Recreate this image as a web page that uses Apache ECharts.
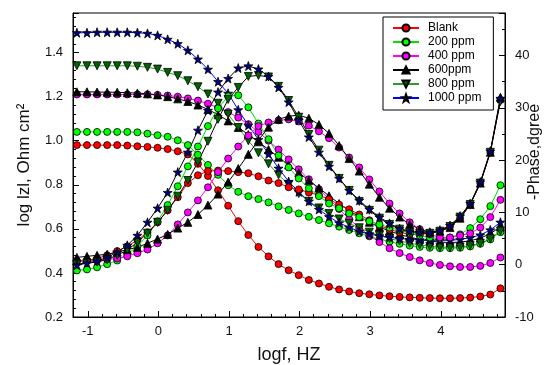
<!DOCTYPE html>
<html><head><meta charset="utf-8">
<script src="https://cdn.jsdelivr.net/npm/echarts@6/dist/echarts.min.js"></script>
<style>html,body{margin:0;padding:0;background:#fff}#c{width:550px;height:365px}</style>
</head><body><div id="c"></div>
<script>
// log f (Hz)
const logf = [-1.155,-1.012,-0.869,-0.726,-0.584,-0.441,-0.298,-0.155,-0.012,0.131,0.274,0.417,0.560,0.702,0.845,0.988,1.131,1.274,1.417,1.560,1.702,1.845,1.988,2.131,2.274,2.417,2.560,2.702,2.845,2.988,3.131,3.274,3.417,3.560,3.702,3.845,3.988,4.131,4.274,4.417,4.560,4.702,4.845];

// log |Z| (left axis)
const zBlank = [0.98,0.98,0.98,0.98,0.98,0.978,0.975,0.972,0.968,0.962,0.952,0.938,0.895,0.84,0.775,0.705,0.635,0.572,0.518,0.475,0.44,0.412,0.39,0.368,0.352,0.337,0.325,0.316,0.308,0.303,0.298,0.294,0.291,0.289,0.287,0.286,0.285,0.285,0.286,0.288,0.293,0.302,0.33];
const z200 = [1.04,1.04,1.04,1.04,1.04,1.04,1.038,1.032,1.025,1.018,1.002,0.98,0.936,0.89,0.845,0.798,0.768,0.748,0.735,0.72,0.702,0.686,0.67,0.655,0.64,0.625,0.61,0.595,0.58,0.566,0.553,0.542,0.532,0.524,0.518,0.514,0.512,0.512,0.514,0.52,0.532,0.552,0.585];
const z400 = [1.21,1.21,1.21,1.21,1.21,1.21,1.21,1.21,1.208,1.205,1.2,1.192,1.182,1.168,1.15,1.13,1.105,1.075,1.04,1.0,0.96,0.915,0.87,0.825,0.78,0.735,0.69,0.645,0.605,0.57,0.54,0.512,0.49,0.472,0.457,0.445,0.436,0.43,0.427,0.427,0.432,0.445,0.47];
const z600 = [1.222,1.222,1.221,1.22,1.22,1.218,1.216,1.213,1.208,1.2,1.19,1.178,1.162,1.142,1.118,1.09,1.06,1.028,0.995,0.96,0.925,0.89,0.855,0.82,0.785,0.75,0.715,0.683,0.655,0.63,0.608,0.59,0.575,0.562,0.552,0.545,0.54,0.538,0.54,0.546,0.558,0.578,0.61];
const z800 = [1.34,1.34,1.34,1.34,1.34,1.34,1.338,1.333,1.325,1.31,1.295,1.272,1.245,1.212,1.17,1.12,1.06,1.0,0.945,0.895,0.845,0.8,0.76,0.725,0.695,0.67,0.645,0.625,0.605,0.585,0.57,0.556,0.545,0.535,0.527,0.521,0.517,0.516,0.518,0.524,0.535,0.555,0.59];
const z1000 = [1.49,1.49,1.492,1.492,1.492,1.492,1.49,1.487,1.478,1.46,1.44,1.41,1.37,1.324,1.268,1.215,1.14,1.07,1.005,0.94,0.875,0.815,0.768,0.725,0.688,0.655,0.627,0.607,0.588,0.577,0.568,0.562,0.556,0.552,0.55,0.548,0.548,0.548,0.552,0.56,0.572,0.595,0.63];

// -Phase (degree, right axis)
const pBlank = [0.7,0.8,1.2,1.8,2.6,3.5,4.7,6.2,8.1,10.4,12.9,15.6,17.1,17.9,18.0,17.9,17.7,17.5,16.9,16.1,15.6,14.8,14.4,13.8,13.3,12.5,11.5,10.6,9.6,8.5,7.5,6.7,6.2,5.8,5.8,6.0,6.4,7.3,8.9,11.5,15.6,21.5,31.5];
const p200 = [-1.1,-0.9,-0.5,0.1,0.8,2.0,3.5,5.6,8.3,11.4,15.0,18.8,22.6,26.5,29.9,32.2,32.4,30.1,27.0,24.0,20.9,18.6,16.5,14.6,13.1,11.7,10.8,9.8,9.1,8.3,7.7,7.1,6.6,6.0,5.6,5.2,5.0,5.2,5.8,7.0,8.7,11.2,15.2];
const p400 = [0.7,0.7,0.8,1.0,1.2,1.6,2.2,2.9,4.1,5.6,7.7,10.0,12.3,14.8,17.7,20.3,22.6,24.7,26.5,27.2,27.6,27.8,27.4,26.6,25.5,24.2,22.4,20.5,18.6,16.3,14.0,11.7,9.8,8.1,6.8,5.8,5.2,5.2,5.6,6.0,7.1,9.1,12.4];
const p600 = [1.4,1.6,1.8,2.0,2.4,2.9,3.3,4.1,4.9,5.8,7.0,8.1,9.6,11.4,13.5,15.8,18.4,21.1,23.8,26.3,27.8,28.4,28.6,28.0,26.8,25.1,22.8,20.3,17.9,15.4,12.9,10.8,9.1,7.7,6.8,6.2,6.4,7.1,8.9,11.5,15.6,21.5,32.0];
const p800 = [0.1,0.3,0.5,1.0,1.8,2.8,4.3,6.0,8.1,10.4,13.1,16.1,19.6,23.6,27.8,31.6,33.9,36.0,36.2,35.9,34.1,31.4,28.2,24.9,21.9,19.0,16.5,14.2,12.1,10.4,8.9,7.7,6.8,6.2,6.0,6.0,6.4,7.3,9.1,11.5,15.6,21.5,31.2];
const p1000 = [-0.1,0.3,0.7,1.4,2.4,3.7,5.6,8.1,10.8,13.8,17.7,21.5,25.7,29.5,33.0,35.6,37.6,38.0,37.4,36.0,33.9,31.1,27.6,24.4,21.5,18.8,16.5,14.2,12.3,10.6,9.1,7.9,6.9,6.4,6.2,6.2,6.6,7.5,9.3,11.7,15.8,21.7,31.8];

const seriesNames = ['Blank','200 ppm','400 ppm','600ppm','800 ppm','1000 ppm'];
const xMajorTicks = [-1,0,1,2,3,4];
const xMinorTicks = [-0.8,-0.6,-0.4,-0.2,0.2,0.4,0.6,0.8,1.2,1.4,1.6,1.8,2.2,2.4,2.6,2.8,3.2,3.4,3.6,3.8,4.2,4.4,4.6,4.8];

const FONT = '"Liberation Sans", Arial, sans-serif';
const STAR = 'path://M0,-10L2.35,-3.24L9.51,-3.09L3.8,1.24L5.88,8.09L0,4L-5.88,8.09L-3.8,1.24L-9.51,-3.09L-2.35,-3.24Z';

const specs = [
  {name: seriesNames[0], z: zBlank, p: pBlank, zLine: '#ff0000', pLine: '#ff0000', fill: '#ff0000', symbol: 'circle', size: 7, rot: 0},
  {name: seriesNames[1], z: z200, p: p200, zLine: '#00e000', pLine: '#00e000', fill: '#00ff00', symbol: 'circle', size: 7, rot: 0},
  {name: seriesNames[2], z: z400, p: p400, zLine: '#ff00ff', pLine: '#ff00ff', fill: '#ff00ff', symbol: 'circle', size: 7, rot: 0},
  {name: seriesNames[3], z: z600, p: p600, zLine: '#000000', pLine: '#000000', fill: '#000000', symbol: 'triangle', size: 8, rot: 0},
  {name: seriesNames[4], z: z800, p: p800, zLine: '#2aa02a', pLine: '#000000', fill: '#006400', symbol: 'triangle', size: 8, rot: 180},
  {name: seriesNames[5], z: z1000, p: p1000, zLine: '#0000ff', pLine: '#000000', fill: '#000080', symbol: STAR, size: 9, rot: 0}
];

function mk(spec, vals, axis, lineColor) {
  return {
    type: 'line', name: spec.name, xAxisIndex: 0, yAxisIndex: axis,
    data: logf.map((x, i) => [x, vals[i]]),
    symbol: spec.symbol, symbolSize: spec.size, symbolRotate: spec.rot,
    showAllSymbol: true, animation: false, silent: true,
    lineStyle: {color: lineColor, width: 1},
    itemStyle: {color: spec.fill, borderColor: '#000', borderWidth: 0.8}
  };
}
const series = [];
specs.forEach(s => series.push(mk(s, s.z, 0, s.zLine)));
specs.forEach(s => series.push(mk(s, s.p, 1, s.pLine)));

const chart = echarts.init(document.getElementById('c'), null, {renderer: 'canvas'});
chart.setOption({
  animation: false,
  backgroundColor: '#fff',
  textStyle: {fontFamily: FONT},
  grid: {left: 73, right: 45, top: 13, bottom: 48, show: true, borderColor: '#000', borderWidth: 1,
    containLabel: false, outerBoundsMode: 'none'},
  legend: {
    data: seriesNames, orient: 'vertical', left: 383, top: 17,
    itemWidth: 26, itemHeight: 9, itemGap: 2,
    padding: [5, 12, 6, 9], borderColor: '#000', borderWidth: 1, borderRadius: 0,
    backgroundColor: '#fff',
    textStyle: {fontSize: 12, color: '#000', fontFamily: FONT, lineHeight: 11, padding: [0, 0, 0, 4]}
  },
  xAxis: [
    {
      type: 'value', min: -1.21, max: 4.91, position: 'bottom',
      axisLine: {onZero: false, lineStyle: {color: '#000', width: 1}},
      axisTick: {inside: true, length: 6, customValues: xMajorTicks, lineStyle: {color: '#000'}},
      axisLabel: {customValues: xMajorTicks, fontSize: 13, color: '#111', margin: 8, fontFamily: FONT},
      splitLine: {show: false},
      name: 'logf, HZ', nameLocation: 'middle', nameGap: 29, nameMoveOverlap: false,
      nameTextStyle: {fontSize: 18, color: '#111', fontFamily: FONT}
    },
    {
      type: 'value', min: -1.21, max: 4.91, position: 'top', offset: -304,
      axisLine: {show: false, onZero: false},
      axisTick: {inside: false, length: 3, customValues: xMinorTicks, lineStyle: {color: '#000'}},
      axisLabel: {show: false},
      splitLine: {show: false}
    }
  ],
  yAxis: [
    {
      type: 'value', min: 0.2, max: 1.5796, interval: 0.2, position: 'left',
      axisLine: {show: true, onZero: false, lineStyle: {color: '#000'}},
      axisTick: {show: true, inside: true, length: 6, lineStyle: {color: '#000'}},
      minorTick: {show: true, splitNumber: 5, length: 3, lineStyle: {color: '#000'}},
      axisLabel: {fontSize: 13, color: '#111', margin: 10, showMaxLabel: false, fontFamily: FONT,
        formatter: v => v.toFixed(1)},
      splitLine: {show: false},
      name: 'log lzl, Ohm cm²', nameLocation: 'middle', nameGap: 40, nameMoveOverlap: false,
      nameTextStyle: {fontSize: 17, color: '#111', fontFamily: FONT}
    },
    {
      type: 'value', min: -10, max: 48.13, interval: 10, position: 'right', alignTicks: false,
      axisLine: {show: true, onZero: false, lineStyle: {color: '#000'}},
      axisTick: {show: true, inside: true, length: 6, lineStyle: {color: '#000'}},
      minorTick: {show: true, splitNumber: 2, length: 3, lineStyle: {color: '#000'}},
      axisLabel: {fontSize: 13, color: '#111', margin: 10, showMaxLabel: false, fontFamily: FONT},
      splitLine: {show: false},
      name: '-Phase,dgree', nameLocation: 'middle', nameGap: 22, nameMoveOverlap: false,
      nameTextStyle: {fontSize: 16, color: '#111', fontFamily: FONT, padding: [0, 0, 0, 26]}
    }
  ],
  series: series
});
</script>
</body></html>
